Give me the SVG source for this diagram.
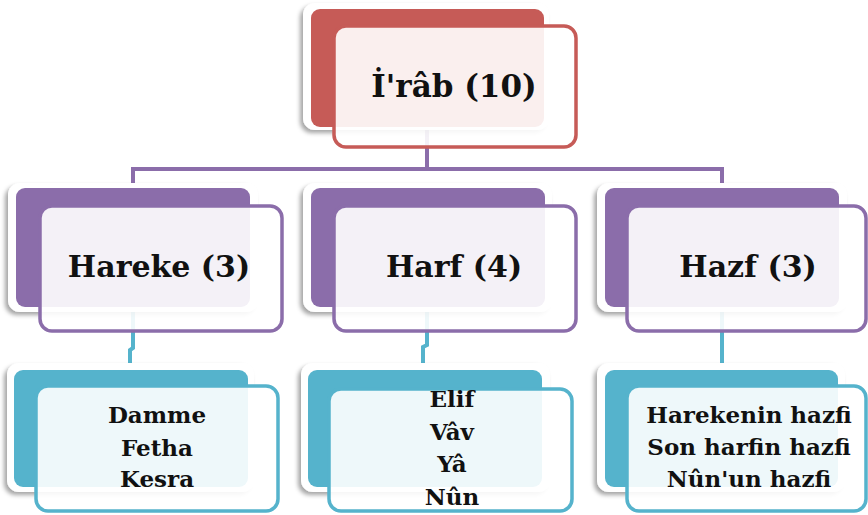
<svg xmlns="http://www.w3.org/2000/svg" width="868" height="515" viewBox="0 0 868 515">
<defs>
<filter id="sh" x="-10%" y="-10%" width="120%" height="125%">
<feDropShadow dx="-3" dy="3" stdDeviation="2" flood-color="#000" flood-opacity="0.35"/>
</filter>
<style>
.bw{fill:#fff;filter:url(#sh)}
.red{fill:#C65B57}
.pur{fill:#8B6DAA}
.teal{fill:#55B3CC}
.fr{fill:#fff;fill-opacity:0.9;stroke-width:3.5}
.fred{stroke:#C65B57}
.fpur{stroke:#8B6DAA}
.fteal{stroke:#55B3CC}
.t{font-family:"DejaVu Serif","Liberation Serif",serif;font-weight:bold;fill:#111;text-anchor:middle}
.h{font-size:30px}
.s{font-size:23px}
.cp{fill:none;stroke:#8B6DAA;stroke-width:4}
.ct{fill:none;stroke:#55B3CC;stroke-width:4}
</style>
</defs>
<rect width="868" height="515" fill="#fff"/>
<g id="connectors">
<path class="cp" d="M427,130 V169 M133,190 V169 H722 V190"/>
<path class="ct" d="M133,307 V348 L130,350 V372"/>
<path class="ct" d="M427,307 V345 L423,347 V372"/>
<path class="ct" d="M722,307 V372"/>
</g>
<g id="irab">
<rect class="bw" x="303" y="3" width="246" height="127" rx="12"/>
<rect class="red" x="311" y="9" width="233" height="118" rx="9"/>
<rect class="fr fred" x="334" y="26" width="242" height="121" rx="12"/>
<text class="t" x="454" y="97" font-size="31">İ'râb (10)</text>
</g>
<g id="hareke">
<rect class="bw" x="8" y="183" width="250" height="129" rx="12"/>
<rect class="pur" x="16" y="188" width="234" height="119" rx="9"/>
<rect class="fr fpur" x="40" y="206" width="242" height="125" rx="12"/>
<text class="t h" x="159" y="277">Hareke (3)</text>
</g>
<g id="harf">
<rect class="bw" x="303" y="183" width="249" height="129" rx="12"/>
<rect class="pur" x="311" y="188" width="234" height="119" rx="9"/>
<rect class="fr fpur" x="334" y="206" width="242" height="125" rx="12"/>
<text class="t h" x="454" y="277">Harf (4)</text>
</g>
<g id="hazf">
<rect class="bw" x="597" y="183" width="250" height="129" rx="12"/>
<rect class="pur" x="605" y="188" width="234" height="119" rx="9"/>
<rect class="fr fpur" x="627" y="206" width="239" height="125" rx="12"/>
<text class="t h" x="748" y="277">Hazf (3)</text>
</g>
<g id="hareke-items">
<rect class="bw" x="7" y="363" width="247" height="129" rx="12"/>
<rect class="teal" x="14" y="370" width="234" height="117" rx="9"/>
<rect class="fr fteal" x="36" y="386" width="242" height="125" rx="12"/>
<text class="t s" x="157" y="423">Damme</text>
<text class="t s" x="157" y="456">Fetha</text>
<text class="t s" x="157" y="487">Kesra</text>
</g>
<g id="harf-items">
<rect class="bw" x="301" y="363" width="249" height="129" rx="12"/>
<rect class="teal" x="308" y="370" width="234" height="117" rx="9"/>
<rect class="fr fteal" x="329" y="389" width="243" height="122" rx="12"/>
<text class="t s" x="452" y="407">Elif</text>
<text class="t s" x="452" y="440">Vâv</text>
<text class="t s" x="452" y="472">Yâ</text>
<text class="t s" x="452" y="505">Nûn</text>
</g>
<g id="hazf-items">
<rect class="bw" x="597" y="363" width="248" height="129" rx="12"/>
<rect class="teal" x="605" y="370" width="233" height="117" rx="9"/>
<rect class="fr fteal" x="627" y="386" width="239" height="125" rx="12"/>
<text class="t s" x="749" y="423">Harekenin hazfi</text>
<text class="t s" x="749" y="455">Son harfin hazfi</text>
<text class="t s" x="749" y="487">Nûn'un hazfi</text>
</g>
</svg>
